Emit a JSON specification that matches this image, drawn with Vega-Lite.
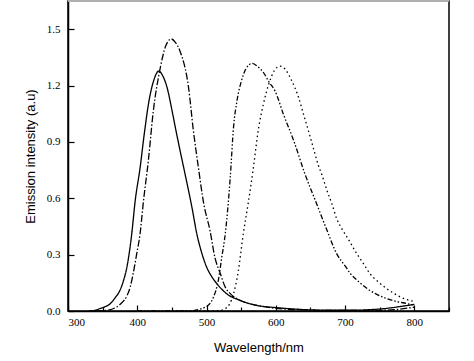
{
  "$schema": "https://vega.github.io/schema/vega-lite/v6.json",
  "width": 381,
  "height": 310,
  "autosize": {"type": "none"},
  "padding": {"left": 68, "top": 1, "right": 25, "bottom": 50},
  "background": "white",
  "config": {
    "view": {"stroke": "#000", "strokeWidth": 1.5},
    "axis": {
      "domainColor": "#000", "domainWidth": 1.5, "tickColor": "#000", "tickWidth": 1.2,
      "labelColor": "#000", "titleColor": "#000", "grid": false,
      "labelFont": "Liberation Serif", "labelFontSize": 11,
      "titleFont": "Liberation Sans", "titleFontSize": 13, "titleFontWeight": "normal"
    }
  },
  "data": {"values": [
    {"s":"A","wl":330,"v":0},{"s":"A","wl":340,"v":0.004},{"s":"A","wl":346,"v":0.013},{"s":"A","wl":353,"v":0.022},{"s":"A","wl":361,"v":0.039},{"s":"A","wl":368,"v":0.07},{"s":"A","wl":375,"v":0.11},{"s":"A","wl":380,"v":0.16},{"s":"A","wl":385,"v":0.233},{"s":"A","wl":392,"v":0.41},{"s":"A","wl":397,"v":0.587},{"s":"A","wl":404,"v":0.76},{"s":"A","wl":410,"v":0.94},{"s":"A","wl":417,"v":1.12},{"s":"A","wl":424,"v":1.23},{"s":"A","wl":431,"v":1.277},{"s":"A","wl":437,"v":1.25},{"s":"A","wl":443,"v":1.19},{"s":"A","wl":450,"v":1.07},{"s":"A","wl":455,"v":0.976},{"s":"A","wl":462,"v":0.85},{"s":"A","wl":468,"v":0.746},{"s":"A","wl":479,"v":0.55},{"s":"A","wl":486,"v":0.41},{"s":"A","wl":493,"v":0.31},{"s":"A","wl":500,"v":0.235},{"s":"A","wl":508,"v":0.18},{"s":"A","wl":515,"v":0.145},{"s":"A","wl":529,"v":0.092},{"s":"A","wl":548,"v":0.057},{"s":"A","wl":572,"v":0.03},{"s":"A","wl":600,"v":0.018},{"s":"A","wl":625,"v":0.011},{"s":"A","wl":650,"v":0.006},{"s":"A","wl":680,"v":0.004},{"s":"A","wl":710,"v":0.004},{"s":"A","wl":740,"v":0.008},{"s":"A","wl":760,"v":0.014},{"s":"A","wl":780,"v":0.024},{"s":"A","wl":800,"v":0.035},
    {"s":"B","wl":340,"v":0},{"s":"B","wl":356,"v":0.004},{"s":"B","wl":370,"v":0.021},{"s":"B","wl":378,"v":0.045},{"s":"B","wl":385,"v":0.08},{"s":"B","wl":390,"v":0.13},{"s":"B","wl":394,"v":0.198},{"s":"B","wl":399,"v":0.3},{"s":"B","wl":404,"v":0.41},{"s":"B","wl":409,"v":0.587},{"s":"B","wl":416,"v":0.8},{"s":"B","wl":423,"v":1.06},{"s":"B","wl":433,"v":1.29},{"s":"B","wl":441,"v":1.41},{"s":"B","wl":449,"v":1.448},{"s":"B","wl":455,"v":1.43},{"s":"B","wl":462,"v":1.38},{"s":"B","wl":474,"v":1.19},{"s":"B","wl":481,"v":0.96},{"s":"B","wl":488,"v":0.77},{"s":"B","wl":496,"v":0.57},{"s":"B","wl":505,"v":0.428},{"s":"B","wl":512,"v":0.286},{"s":"B","wl":520,"v":0.198},{"s":"B","wl":527,"v":0.127},{"s":"B","wl":535,"v":0.09},{"s":"B","wl":544,"v":0.066},{"s":"B","wl":560,"v":0.04},{"s":"B","wl":573,"v":0.03},{"s":"B","wl":590,"v":0.019},{"s":"B","wl":610,"v":0.011},{"s":"B","wl":640,"v":0.006},{"s":"B","wl":680,"v":0.003},{"s":"B","wl":740,"v":0.003},{"s":"B","wl":770,"v":0.007},{"s":"B","wl":800,"v":0.02},
    {"s":"C","wl":400,"v":0},{"s":"C","wl":450,"v":0},{"s":"C","wl":480,"v":0.002},{"s":"C","wl":491,"v":0.01},{"s":"C","wl":498,"v":0.02},{"s":"C","wl":505,"v":0.04},{"s":"C","wl":510,"v":0.074},{"s":"C","wl":517,"v":0.163},{"s":"C","wl":522,"v":0.286},{"s":"C","wl":527,"v":0.41},{"s":"C","wl":534,"v":0.7},{"s":"C","wl":539,"v":0.98},{"s":"C","wl":544,"v":1.12},{"s":"C","wl":550,"v":1.22},{"s":"C","wl":557,"v":1.29},{"s":"C","wl":566,"v":1.318},{"s":"C","wl":574,"v":1.3},{"s":"C","wl":582,"v":1.27},{"s":"C","wl":590,"v":1.22},{"s":"C","wl":599,"v":1.17},{"s":"C","wl":611,"v":1.047},{"s":"C","wl":626,"v":0.905},{"s":"C","wl":642,"v":0.73},{"s":"C","wl":659,"v":0.57},{"s":"C","wl":674,"v":0.428},{"s":"C","wl":688,"v":0.304},{"s":"C","wl":700,"v":0.24},{"s":"C","wl":708,"v":0.198},{"s":"C","wl":720,"v":0.155},{"s":"C","wl":732,"v":0.119},{"s":"C","wl":745,"v":0.09},{"s":"C","wl":760,"v":0.066},{"s":"C","wl":775,"v":0.05},{"s":"C","wl":790,"v":0.039},{"s":"C","wl":800,"v":0.03},
    {"s":"D","wl":450,"v":0},{"s":"D","wl":500,"v":0},{"s":"D","wl":520,"v":0.003},{"s":"D","wl":528,"v":0.015},{"s":"D","wl":533,"v":0.035},{"s":"D","wl":539,"v":0.092},{"s":"D","wl":546,"v":0.216},{"s":"D","wl":553,"v":0.41},{"s":"D","wl":560,"v":0.57},{"s":"D","wl":567,"v":0.746},{"s":"D","wl":575,"v":0.97},{"s":"D","wl":582,"v":1.1},{"s":"D","wl":590,"v":1.21},{"s":"D","wl":598,"v":1.28},{"s":"D","wl":606,"v":1.303},{"s":"D","wl":614,"v":1.285},{"s":"D","wl":621,"v":1.24},{"s":"D","wl":633,"v":1.135},{"s":"D","wl":640,"v":1.047},{"s":"D","wl":647,"v":0.96},{"s":"D","wl":654,"v":0.87},{"s":"D","wl":661,"v":0.78},{"s":"D","wl":667,"v":0.72},{"s":"D","wl":674,"v":0.64},{"s":"D","wl":681,"v":0.57},{"s":"D","wl":688,"v":0.49},{"s":"D","wl":695,"v":0.44},{"s":"D","wl":705,"v":0.38},{"s":"D","wl":717,"v":0.304},{"s":"D","wl":727,"v":0.25},{"s":"D","wl":736,"v":0.198},{"s":"D","wl":748,"v":0.155},{"s":"D","wl":760,"v":0.119},{"s":"D","wl":770,"v":0.095},{"s":"D","wl":780,"v":0.074},{"s":"D","wl":790,"v":0.06},{"s":"D","wl":800,"v":0.05}
  ]},
  "layer": [
    {
      "mark": {"type": "line", "color": "#000", "strokeWidth": 1.3, "interpolate": "monotone", "clip": true},
      "encoding": {
        "x": {"field": "wl", "type": "quantitative", "scale": {"domain": [300, 850], "nice": false},
          "axis": {"title": "Wavelength/nm", "values": [300,350,400,450,500,550,600,650,700,750,800,850],
            "labelExpr": "datum.value % 100 === 0 && datum.value < 850 ? datum.label : ''",
            "tickSize": {"condition": {"test": "datum.value % 100 === 0", "value": -6}, "value": -4},
            "labelPadding": 11, "titlePadding": 14}},
        "y": {"field": "v", "type": "quantitative", "scale": {"domain": [0, 1.65], "nice": false},
          "axis": {"title": "Emission intensity (a.u)", "values": [0,0.15,0.3,0.45,0.6,0.75,0.9,1.05,1.2,1.35,1.5,1.65],
            "format": ".1f",
            "labelExpr": "abs(round(datum.value/0.3)*0.3 - datum.value) < 0.01 && datum.value < 1.6 ? datum.label : ''",
            "tickSize": {"condition": {"test": "abs(round(datum.value/0.3)*0.3 - datum.value) < 0.01", "value": -6}, "value": -4},
            "labelPadding": 14, "titlePadding": 9}},
        "strokeDash": {"field": "s", "type": "nominal", "legend": null,
          "scale": {"domain": ["A","B","C","D"], "range": [[1,0],[7,2,1.5,2],[5,2,1.5,2,1.5,2],[1.5,3]]}}
      }
    },
    {
      "mark": {"type": "rule", "color": "#b0b0b0", "strokeWidth": 2},
      "encoding": {"y": {"datum": 1.65}}
    }
  ]
}
